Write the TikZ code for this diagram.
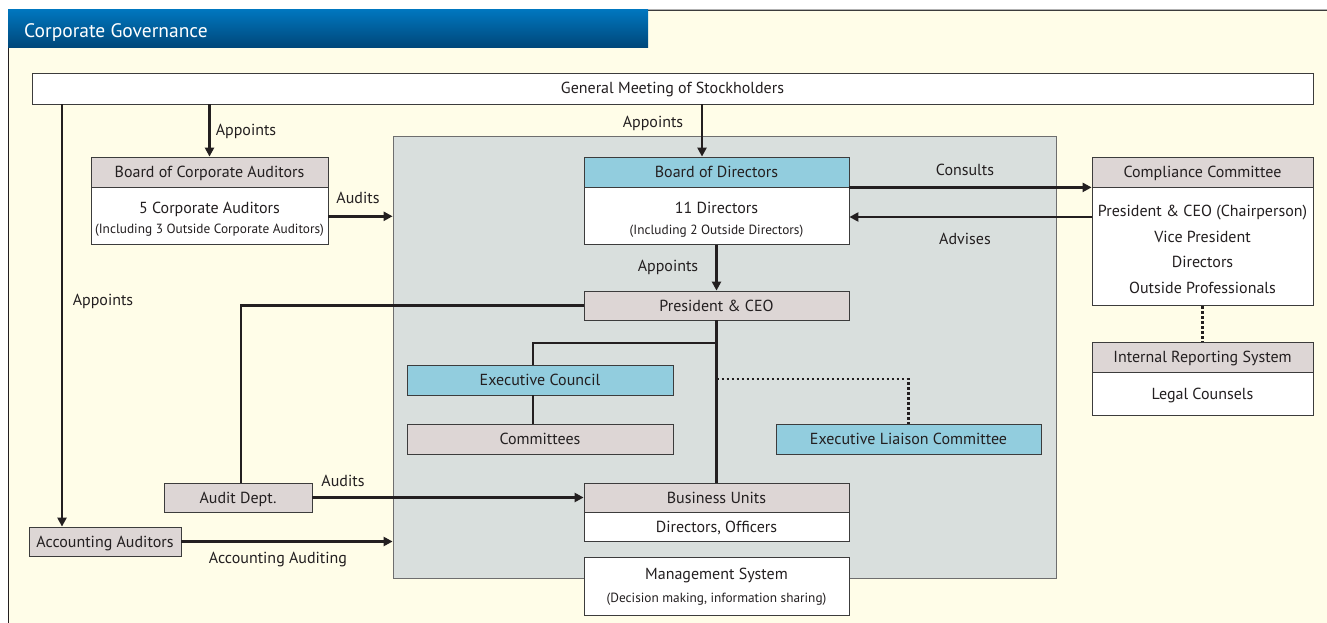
\documentclass[tikz,border=0pt]{standalone}
\usepackage{fontspec}
\setmainfont{PT Sans}
\usetikzlibrary{arrows.meta}
\definecolor{paper}{RGB}{255,253,232}
\definecolor{panelfill}{RGB}{217,223,221}
\definecolor{panelline}{RGB}{110,110,110}
\definecolor{hdrgray}{RGB}{221,214,213}
\definecolor{hdrblue}{RGB}{146,205,222}
\definecolor{boxline}{RGB}{60,60,60}
\definecolor{txt}{RGB}{35,31,32}
\definecolor{bartop}{RGB}{0,118,190}
\definecolor{barbot}{RGB}{0,70,120}
\newcommand{\mainfs}{\fontsize{16}{18}\selectfont}
\newcommand{\smallfs}{\fontsize{13.3}{15}\selectfont}
\begin{document}
\begin{tikzpicture}[x=1pt,y=-1pt,
  box/.style={draw=boxline, line width=0.8pt, inner sep=0pt, text=txt, font=\mainfs, text height=11pt, text depth=0pt},
  graybox/.style={box, fill=hdrgray},
  bluebox/.style={box, fill=hdrblue},
  whitebox/.style={box, fill=white},
  lbl/.style={inner sep=0pt, text=txt, font=\mainfs, text height=11pt, text depth=0pt},
  small/.style={inner sep=0pt, text=txt, font=\smallfs, text height=9.5pt, text depth=0.5pt},
  conn/.style={draw=txt, line width=2.4pt},
  arr/.style={conn, -{Triangle[length=9pt,width=9pt]}},
  dots/.style={draw=txt, line width=2.4pt, dash pattern=on 2.5pt off 2.5pt}]
\useasboundingbox (0,0) rectangle (1327,623);
% page and frame
\fill[white] (0,0) rectangle (1327,623);
\fill[paper] (8,10) rectangle (1327,623);
\draw[gray!60, line width=0.6pt] (8,9) -- (1327,9);
\draw[boxline, line width=1.2pt] (8,10.5) -- (1327,10.5);
\draw[txt, line width=1.4pt] (8.7,10) -- (8.7,623);
% title bar
\shade[top color=bartop, bottom color=barbot] (8,10) rectangle (648,48);
\node[anchor=west, inner sep=0pt, text=white, font=\fontsize{19.5}{22}\selectfont, text height=13pt, text depth=0pt] (title) at (24,31) {Corporate Governance};

% management panel
\node[draw=panelline, fill=panelfill, line width=0.8pt, minimum width=663, minimum height=442, inner sep=0pt] (panel) at (724.5,357) {};

% general meeting
\node[whitebox, minimum width=1281, minimum height=31] (gm) at (672.5,88.5) {General Meeting of Stockholders};

% board of corporate auditors
\node[graybox, minimum width=237, minimum height=30] (bcah) at (209.5,172) {Board of Corporate Auditors};
\node[whitebox, minimum width=237, minimum height=57, anchor=north] (bcab) at (bcah.south) {};
\node[lbl] (bcab1) at (209.5,208) {5 Corporate Auditors};
\node[small] (bcab2) at (209.5,229) {(Including 3 Outside Corporate Auditors)};

% board of directors
\node[bluebox, minimum width=265, minimum height=30] (bodh) at (716.5,172) {Board of Directors};
\node[whitebox, minimum width=265, minimum height=57, anchor=north] (bodb) at (bodh.south) {};
\node[lbl] (bodb1) at (716.5,208) {11 Directors};
\node[small] (bodb2) at (716.5,230) {(Including 2 Outside Directors)};

% compliance committee
\node[graybox, minimum width=221, minimum height=30] (cch) at (1202.5,172) {Compliance Committee};
\node[whitebox, minimum width=221, minimum height=118, anchor=north] (ccb) at (cch.south) {};
\node[lbl] (ccb1) at (1202.5,211) {President \& CEO (Chairperson)};
\node[lbl] (ccb2) at (1202.5,237) {Vice President};
\node[lbl] (ccb3) at (1202.5,262) {Directors};
\node[lbl] (ccb4) at (1202.5,288) {Outside Professionals};

% internal reporting system
\node[graybox, minimum width=221, minimum height=30] (irh) at (1202.5,357) {Internal Reporting System};
\node[whitebox, minimum width=221, minimum height=43, anchor=north] (irb) at (irh.south) {Legal Counsels};

% executive organisation
\node[graybox, minimum width=265, minimum height=29] (pres) at (716.5,305.5) {President \& CEO};
\node[bluebox, minimum width=266, minimum height=30] (ec) at (540,380) {Executive Council};
\node[graybox, minimum width=266, minimum height=30] (com) at (540,439) {Committees};
\node[bluebox, minimum width=265, minimum height=30] (elc) at (908.5,439) {Executive Liaison Committee};
\node[graybox, minimum width=265, minimum height=29] (buh) at (716.5,497.5) {Business Units};
\node[whitebox, minimum width=265, minimum height=29, anchor=north] (bub) at (buh.south) {Directors, Officers};
\node[whitebox, minimum width=265, minimum height=58] (ms) at (716.5,586) {};
\node[lbl] (ms1) at (716.5,574) {Management System};
\node[small] (ms2) at (716.5,598) {(Decision making, information sharing)};

% audit and accounting
\node[graybox, minimum width=148, minimum height=29] (aud) at (238,497.5) {Audit Dept.};
\node[graybox, minimum width=152, minimum height=29] (acc) at (105,541.5) {Accounting Auditors};

% routing coordinates
\coordinate (leftX) at (62,0);
\coordinate (bodX) at (702,0);
\coordinate (advY) at (0,217);
\coordinate (brY) at (0,343);
\coordinate (ecX) at (533,0);
\coordinate (dotY) at (0,379);
\coordinate (audX) at (241,0);

% connectors
\draw[arr] (gm.south -| bcah.north) -- (bcah.north);
\node[lbl] (l1) at (246,130) {Appoints};
\draw[arr] (gm.south -| bodX) -- (bodh.north -| bodX);
\node[lbl] (l2) at (653,122) {Appoints};
\draw[arr] (gm.south -| leftX) -- (acc.north -| leftX);
\node[lbl] (l3) at (103,300) {Appoints};
\draw[arr] (bcab.east) -- (bcab.east -| panel.west);
\node[lbl] (l4) at (358,198) {Audits};
\draw[arr] (bodh.south east) -- (bodh.south east -| cch.west);
\node[lbl] (l5) at (965,170) {Consults};
\draw[arr] (ccb.west |- advY) -- (bodb.east |- advY);
\node[lbl] (l6) at (965,239) {Advises};
\draw[arr] (bodb.south) -- (pres.north);
\node[lbl] (l7) at (668,266) {Appoints};
\draw[conn] (pres.west) -| (aud.north -| audX);
\draw[conn] (pres.south) -- (buh.north);
\draw[conn] (pres.south |- brY) -| (ec.north -| ecX);
\draw[conn] (ec.south -| ecX) -- (com.north -| ecX);
\draw[dots] (pres.south |- dotY) -| (elc.north);
\draw[dots] (ccb.south) -- (irh.north);
\draw[arr] (aud.east) -- (buh.west);
\node[lbl] (l8) at (343,481) {Audits};
\draw[arr] (acc.east) -- (acc.east -| panel.west);
\node[lbl] (l9) at (278,558) {Accounting Auditing};
\end{tikzpicture}
\end{document}
